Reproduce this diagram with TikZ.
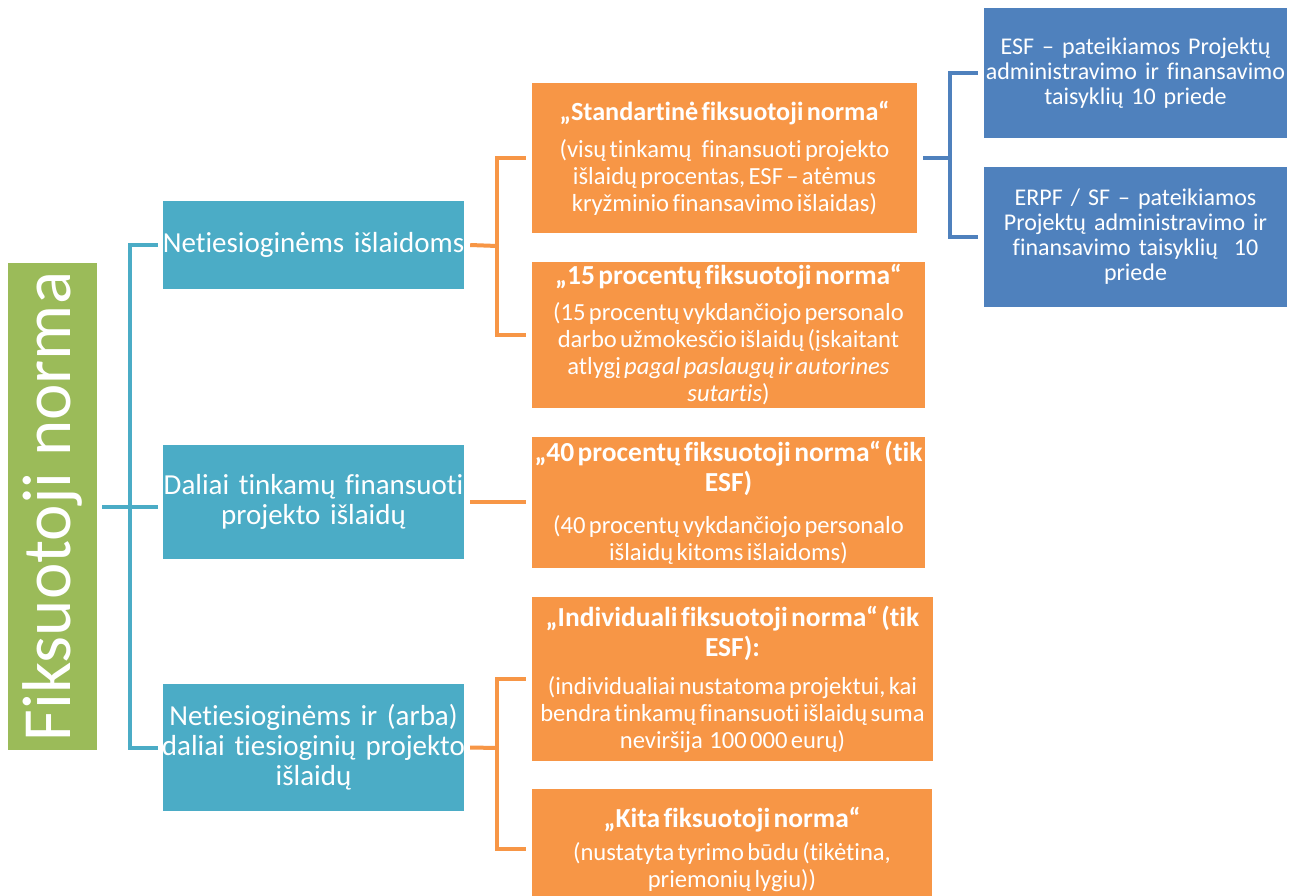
\documentclass[tikz,border=0pt]{standalone}
\usepackage{fontspec}
\setmainfont{Carlito}[Ligatures={NoCommon}]
\definecolor{cteal}{HTML}{4BACC6}
\definecolor{corange}{HTML}{F79646}
\definecolor{cblue}{HTML}{4F81BD}
\definecolor{cgreen}{HTML}{9BBB59}
\newcommand\ttlf{\fontsize{27.5}{30}\selectfont\bfseries}
\newcommand\ttlsf{\fontsize{26.2}{30}\selectfont\bfseries}
\newcommand\bdyf{\fontsize{24.6}{27}\selectfont}
\newcommand\tealf{\fontsize{29}{30}\selectfont}
\newcommand\bluef{\fontsize{24}{25}\selectfont}
\newcommand\cc{\centering\leftskip=-30pt plus 1fil\rightskip=-30pt plus 1fil\relax}
\tikzset{
  box/.style={rectangle, inner sep=0pt, text=white},
  obox/.style={box, fill=corange},
  tbox/.style={box, fill=cteal, font=\tealf, text width=301pt},
  bbox/.style={box, fill=cblue, font=\bluef, text width=303pt},
  gbox/.style={box, fill=cgreen, font=\fontsize{69}{72}\selectfont, rotate=90, minimum width=487pt, minimum height=89pt},
  tline/.style={draw=cteal, line width=4pt},
  oline/.style={draw=corange, line width=4pt},
  bline/.style={draw=cblue, line width=4pt},
}
\begin{document}
\begin{tikzpicture}[x=1pt, y=-1pt]
\useasboundingbox (0,0) rectangle (1302,896);
\clip (0,0) rectangle (1302,896);
\fill[white] (0,0) rectangle (1302,896);

% root
\node[gbox] (root) at (52.5,506.5) {Fiksuotoji norma};

% teal boxes
\node[tbox, minimum height=88pt] (t1) at (313.5,245) {\cc Netiesioginėms išlaidoms\par};
\node[tbox, minimum height=114pt] (t2) at (313.5,502) {\cc Daliai tinkamų finansuoti\\projekto išlaidų\par};
\node[tbox, minimum height=127pt] (t3) at (313.5,747.5) {\cc Netiesioginėms ir (arba)\\daliai tiesioginių projekto\\išlaidų\par};

% orange boxes
\node[obox, text width=385pt, minimum height=150pt] (o1) at (724.5,158) {\cc{\ttlsf „Standartinė fiksuotoji norma“\par}\vspace{10pt}{\bdyf (visų tinkamų\ \ \ finansuoti projekto\\išlaidų procentas, ESF – atėmus\\kryžminio finansavimo išlaidas)\par}};
\node[obox, text width=393pt, minimum height=146pt] (o2) at (728.5,335) {\cc{\ttlf „15 procentų fiksuotoji norma“\par}\vspace{9pt}{\bdyf (15 procentų vykdančiojo personalo\\darbo užmokesčio išlaidų (įskaitant\\atlygį \textit{pagal paslaugų ir autorines}\\\textit{sutartis})\par}};
\node[obox, text width=393pt, minimum height=131pt] (o3) at (728.5,502.5) {\cc{\ttlf „40 procentų fiksuotoji norma“ (tik\\ESF)\par}\vspace{15pt}{\bdyf (40 procentų vykdančiojo personalo\\išlaidų kitoms išlaidoms)\par}};
\node[obox, text width=401pt, minimum height=164pt] (o4) at (732.5,679) {\cc{\ttlf „Individuali fiksuotoji norma“ (tik\\ESF):\par}\vspace{11pt}{\bdyf (individualiai nustatoma projektui, kai\\bendra tinkamų finansuoti išlaidų suma\\neviršija\ \ 100 000 eurų)\par}};
\node[obox, text width=400pt, minimum height=120pt] (o5) at (732,849) {\cc{\ttlf „Kita fiksuotoji norma“\par}\vspace{6pt}{\bdyf (nustatyta tyrimo būdu (tikėtina,\\priemonių lygiu))\par}};

% blue boxes
\node[bbox, minimum height=130pt] (b1) at (1135.5,73) {\cc ESF – pateikiamos Projektų\\administravimo ir finansavimo\\taisyklių 10 priede\par};
\node[bbox, minimum height=140pt] (b2) at (1135.5,237) {\cc ERPF / SF – pateikiamos\\Projektų administravimo ir\\finansavimo taisyklių\ \ 10\\priede\par};

% teal connectors
\coordinate (tb) at (130,506.5);
\draw[tline] ([xshift=5pt]root.south) -- ([xshift=-5pt]root.south -| t2.west);
\draw[tline] ([xshift=-5pt]t1.west) -| (tb) |- ([xshift=-5pt]t3.west);

% orange connectors
\coordinate (ob1) at (497,246);
\draw[oline] ([xshift=6pt]t1.east) -- (ob1);
\draw[oline] ([xshift=-6pt]o1.west) -| (ob1) |- ([xshift=-6pt]o2.west);
\draw[oline] ([xshift=6pt]t2.east) -- ([xshift=-6pt]t2.east -| o3.west);
\coordinate (ob2) at (497,748);
\draw[oline] ([xshift=6pt]t3.east) -- (ob2);
\draw[oline] ([xshift=-6pt]o4.west) -| (ob2) |- ([xshift=-6pt]o5.west);

% blue connectors
\coordinate (bb) at (950,158);
\draw[bline] ([xshift=6pt]o1.east) -- (bb);
\draw[bline] ([xshift=-6pt]b1.west) -| (bb) |- ([xshift=-6pt]b2.west);
\end{tikzpicture}
\end{document}
